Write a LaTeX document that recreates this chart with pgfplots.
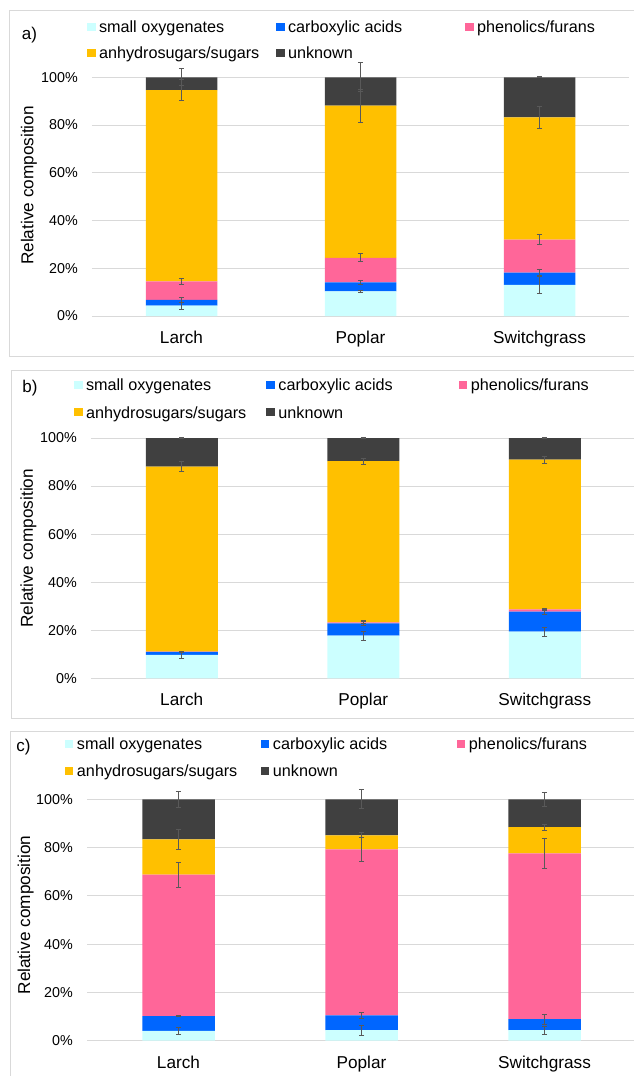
\documentclass[border=0pt]{standalone}
\usepackage{pgfplots}
\pgfplotsset{compat=1.18}
\usepackage{pgfplotstable}
\usepackage{fontspec}
\setmainfont{Liberation Sans}

\definecolor{cso}{HTML}{CCFFFF}
\definecolor{cca}{HTML}{0066FF}
\definecolor{cph}{HTML}{FF6699}
\definecolor{csu}{HTML}{FFC000}
\definecolor{cun}{HTML}{404040}
\definecolor{gridc}{HTML}{D9D9D9}
\definecolor{errc}{HTML}{595959}

% segment values (%)
\pgfplotstableread{
x so ca ph su un
0 4.3 2.5 7.7 80.1 5.4
1 10.3 3.8 10.3 63.7 11.9
2 13.0 5.2 13.8 51.2 16.8
}\dataA
\pgfplotstableread{
x so ca ph su un
0 9.7 1.3 0.1 77.0 11.9
1 17.8 5.1 0.4 67.1 9.6
2 19.4 8.3 1.0 62.3 9.0
}\dataB
\pgfplotstableread{
x so ca ph su un
0 4.1 6.1 58.6 14.6 16.6
1 4.4 6.1 68.8 5.8 14.9
2 4.4 4.5 68.7 10.9 11.5
}\dataC
% error bars at the top of each segment: position, half width
\pgfplotstableread{
x y e
0 4.3 1.6
0 6.8 0.9
0 14.5 1.2
0 94.6 4.4
0 100 3.6
1 10.3 0.4
1 14.1 1.0
1 24.4 1.7
1 88.1 7.0
1 100 6.1
2 13.0 3.7
2 18.2 1.3
2 32.0 2.2
2 83.2 4.6
2 100 0.2
}\errA
\pgfplotstableread{
x y e
0 9.7 1.5
0 11.0 0.3
0 11.1 0.2
0 88.1 2.1
0 100 0.1
1 17.8 1.9
1 22.9 1.0
1 23.3 0.5
1 90.4 1.2
1 100 0.1
2 19.4 1.8
2 27.7 1.0
2 28.7 0.5
2 91.0 1.4
2 100 0.1
}\errB
\pgfplotstableread{
x y e
0 4.1 1.3
0 10.2 0.2
0 68.8 5.1
0 83.4 4.2
0 100 3.3
1 4.4 2.0
1 10.5 1.3
1 79.3 4.9
1 85.1 1.0
1 100 3.9
2 4.4 1.7
2 8.9 2.2
2 77.6 6.2
2 88.5 1.3
2 100 2.8
}\errC

\pgfplotsset{
  base/.style={scale only axis, xmin=-0.5, xmax=2.5, ymin=0, ymax=100, anchor=south west},
  bars/.style={base, ybar stacked,
    xtick={0,1,2}, xticklabels={Larch,Poplar,Switchgrass},
    ytick={0,20,40,60,80,100}, yticklabels={0\%,20\%,40\%,60\%,80\%,100\%},
    ymajorgrids, grid style={color=gridc, line width=1pt},
    axis line style={draw=none}, major tick length=0pt, tick style={draw=none},
    yticklabel style={font=\fontsize{14.3}{17}\selectfont, inner sep=0pt, anchor=east, xshift=-14pt},
    xticklabel style={font=\fontsize{17.2}{20}\selectfont, inner sep=0pt, anchor=north, yshift=-15pt},
    ylabel={Relative composition},
    ylabel style={font=\fontsize{17.2}{20}\selectfont},
    legend columns=3,
    legend image code/.code={\fill[##1] (0pt,1.8pt) rectangle (8.5pt,9.8pt); \path (12pt,0pt);},
    legend style={draw=none, fill=none, inner sep=0pt, outer sep=0pt, anchor=north west,
      font=\fontsize{16.2}{19}\selectfont, column sep=0pt,
      nodes={inner sep=0pt, anchor=base west, text height=12pt, text depth=4pt}},
  },
  errs/.style={base, hide axis, clip=false},
  eb/.style={mark=none, draw=none,
    error bars/.cd, y dir=both, y explicit,
    error bar style={draw=errc, line width=0.8pt},
    error mark options={rotate=90, draw=errc, mark size=2.6pt, line width=0.8pt}},
}

\newcommand{\bars}[2]{%
  \addplot[fill=cso, draw=none] table[x=x,y=so]{#1};
  \addlegendentry{\makebox[#2][l]{small oxygenates}}
  \addplot[fill=cca, draw=none] table[x=x,y=ca]{#1};
  \addlegendentry{\makebox[#2][l]{carboxylic acids}}
  \addplot[fill=cph, draw=none] table[x=x,y=ph]{#1};
  \addlegendentry{\makebox[#2][l]{phenolics/furans}}
  \addplot[fill=csu, draw=none] table[x=x,y=su]{#1};
  \addlegendentry{\makebox[#2][l]{anhydrosugars/sugars}}
  \addplot[fill=cun, draw=none] table[x=x,y=un]{#1};
  \addlegendentry{\makebox[#2][l]{unknown}}
}

\begin{document}
\begin{tikzpicture}
\useasboundingbox (0,0) rectangle (634pt,-1076pt);
\draw[gridc, line width=1pt] (9.8pt,-10.7pt) rectangle (700pt,-356.7pt);
\draw[gridc, line width=1pt] (11.3pt,-370pt) rectangle (700pt,-718.3pt);
\draw[gridc, line width=1pt] (10pt,-731.7pt) rectangle (700pt,-1100pt);

% ---- a ----
\begin{axis}[bars, at={(92pt,-316pt)}, width=537pt, height=238.7pt, bar width=71.5pt,
  ylabel style={at={(axis description cs:-0.1173,0.5467)}, anchor=center},
  legend style={at={(axis description cs:-0.0093,1.2367)}, row sep=9.5pt}]
\bars{\dataA}{177pt}
\end{axis}
\begin{axis}[errs, at={(92pt,-316pt)}, width=537pt, height=238.7pt]
\addplot[eb] table[x=x,y=y,y error=e]{\errA};
\end{axis}
\node[font=\fontsize{17}{20}\selectfont] at (29.5pt,-35pt) {a)};

% ---- b ----
\begin{axis}[bars, at={(91pt,-678.3pt)}, width=544.5pt, height=240.3pt, bar width=72pt,
  ylabel style={at={(axis description cs:-0.115,0.541)}, anchor=center},
  legend style={at={(axis description cs:-0.0312,1.2484)}, row sep=11.8pt}]
\bars{\dataB}{180.4pt}
\end{axis}
\begin{axis}[errs, at={(91pt,-678.3pt)}, width=544.5pt, height=240.3pt]
\addplot[eb] table[x=x,y=y,y error=e]{\errB};
\end{axis}
\node[font=\fontsize{17}{20}\selectfont] at (30pt,-388pt) {b)};

% ---- c ----
\begin{axis}[bars, at={(87pt,-1040.7pt)}, width=549pt, height=241.4pt, bar width=72.5pt,
  ylabel style={at={(axis description cs:-0.1117,0.5207)}, anchor=center},
  legend style={at={(axis description cs:-0.0401,1.2548)}, row sep=10.5pt}]
\bars{\dataC}{184pt}
\end{axis}
\begin{axis}[errs, at={(87pt,-1040.7pt)}, width=549pt, height=241.4pt]
\addplot[eb] table[x=x,y=y,y error=e]{\errC};
\end{axis}
\node[font=\fontsize{17}{20}\selectfont] at (23.5pt,-747pt) {c)};
\end{tikzpicture}
\end{document}
